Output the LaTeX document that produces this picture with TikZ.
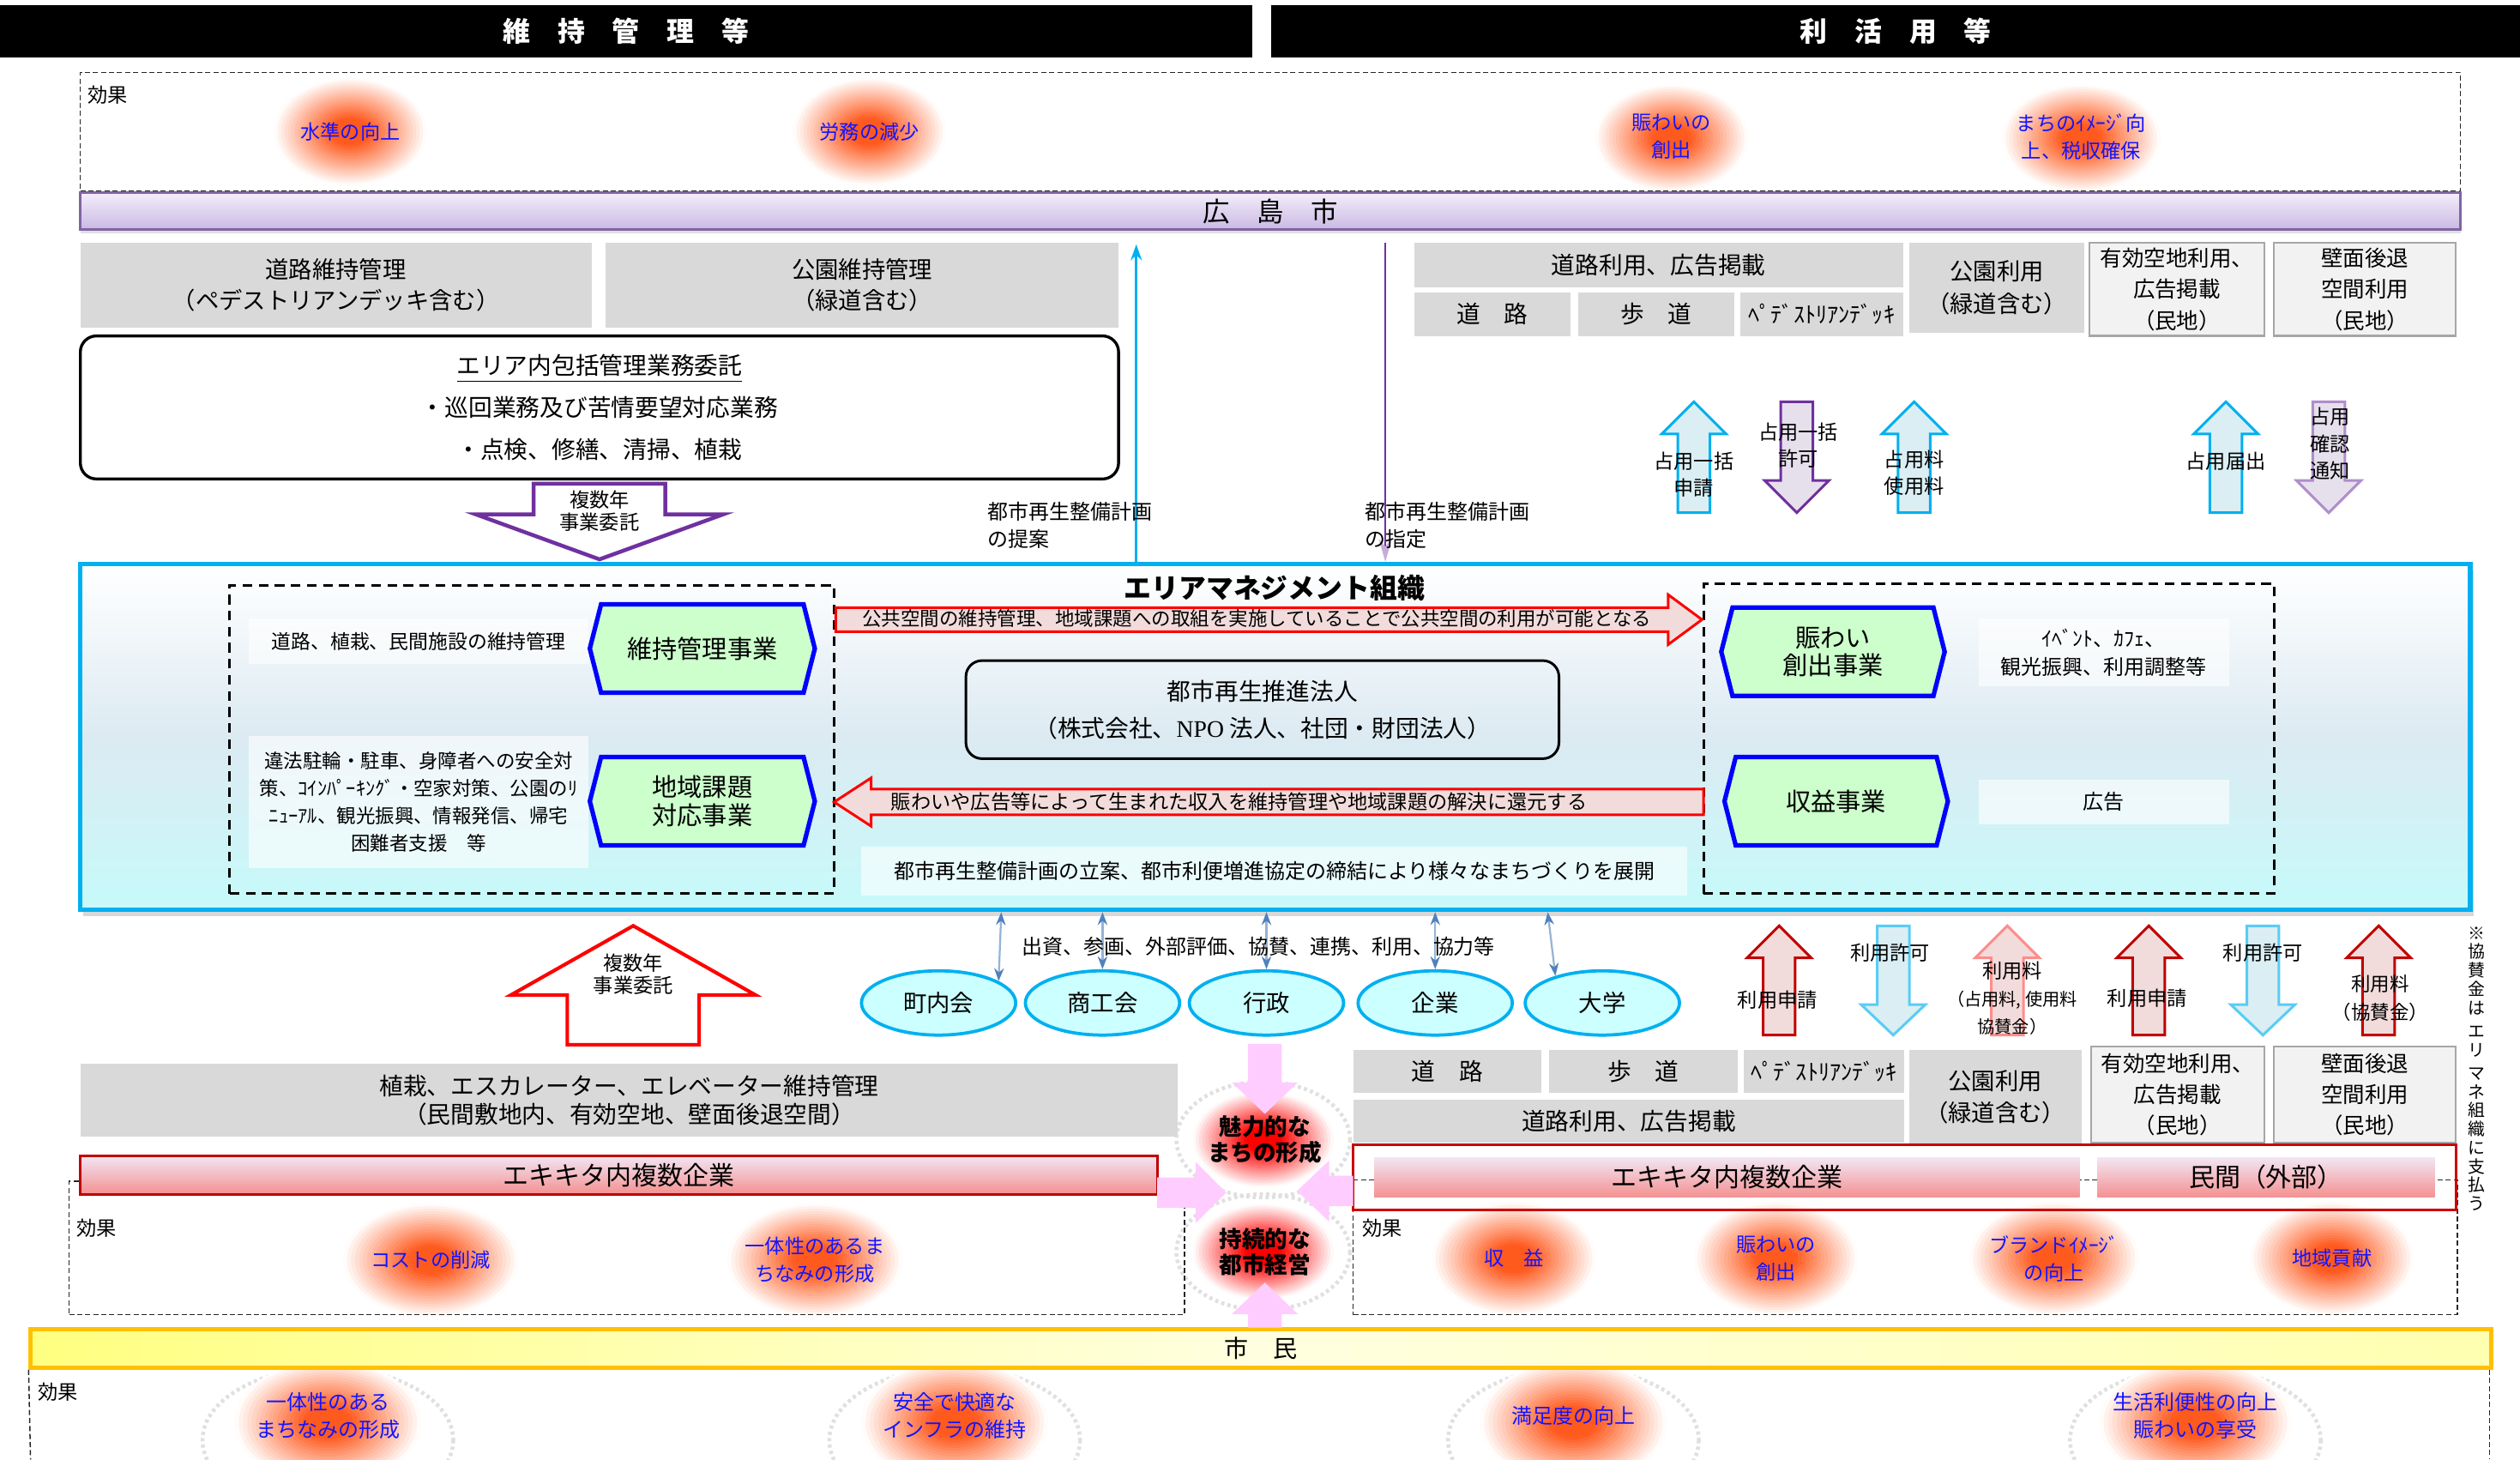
\documentclass[tikz,border=0pt]{standalone}
\usepackage{fontspec}
\setmainfont{Noto Sans CJK JP}
\newfontfamily\serifL{Liberation Serif}
\usetikzlibrary{arrows.meta,fit,shadows,shapes.geometric}
\definecolor{gbox}{HTML}{D9D9D9}
\definecolor{lbox}{HTML}{F2F2F2}
\definecolor{lboxb}{HTML}{A6A6A6}
\definecolor{cyanb}{HTML}{00B0F0}
\definecolor{purb}{HTML}{7030A0}
\definecolor{lpur}{HTML}{E6E0EC}
\definecolor{lblue}{HTML}{DAEEF3}
\definecolor{lred}{HTML}{F2DCDB}
\definecolor{dred}{HTML}{C00000}
\definecolor{hexg}{HTML}{CCFFCC}
\definecolor{hexb}{HTML}{0000FF}
\definecolor{ellc}{HTML}{CCFFFF}
\definecolor{pinkc}{HTML}{FFCCFF}
\definecolor{glowO}{RGB}{255,90,30}
\definecolor{glowR}{RGB}{255,0,0}
\definecolor{gtxt}{RGB}{20,20,255}
\definecolor{ammid}{HTML}{DCEAF2}
\definecolor{ambot}{HTML}{C6FAFA}
\definecolor{purtop}{HTML}{F3EEFA}
\definecolor{purbot}{HTML}{C9B8E3}
\definecolor{purbd}{HTML}{8064A2}
\definecolor{pinktop}{HTML}{F2E6F4}
\definecolor{pinkbot}{HTML}{F49090}
\definecolor{yelL}{HTML}{FFFF80}
\definecolor{yelM}{HTML}{FFFFE0}
\definecolor{yelR}{HTML}{FFFFB0}
\definecolor{yelbd}{HTML}{FFC000}
\definecolor{dblue}{HTML}{4F81BD}
\definecolor{sblue}{HTML}{95B3D7}
\definecolor{redbox}{HTML}{CC0000}
\newcommand\fz[2]{\fontsize{#1}{#2}\selectfont}
\newcommand\glow[4]{%
 \foreach \k in {0,...,19}{%
   \pgfmathsetmacro\ff{0.88-0.04*\k}%
   \pgfmathtruncatemacro\pp{min(100,max(0,(0.9-\ff)*150))}%
   \fill[fill={#1!\pp!white}] (#2) ellipse [x radius={#3*\ff}, y radius={#4*\ff}];
 }}
\newcommand\varrow[7]{\draw[#1] (#2,#3) -- ({#2+#6},#4) -- ({#2+#7},#4) -- ({#2+#7},#5) -- ({#2-#7},#5) -- ({#2-#7},#4) -- ({#2-#6},#4) -- cycle;}
\newcommand\harrow[7]{\draw[#1] (#3,#2) -- (#4,{#2-#6}) -- (#4,{#2-#7}) -- (#5,{#2-#7}) -- (#5,{#2+#7}) -- (#4,{#2+#7}) -- (#4,{#2+#6}) -- cycle;}
\newcommand\hexshape[5]{\draw[hexs] (#1,#3) -- (#2,#3) -- ({#2+#5},{(#3+#4)/2}) -- (#2,#4) -- (#1,#4) -- ({#1-#5},{(#3+#4)/2}) -- cycle;}
\tikzset{
 fb/.style={inner sep=0pt},
 tx/.style={align=center, inner sep=0pt},
 graybox/.style={fb, fill=gbox},
 lgraybox/.style={fb, fill=lbox, draw=lboxb, line width=0.6pt},
 wtext/.style={fb, fill=white, fill opacity=0.6},
 hexs/.style={fill=hexg, draw=hexb, line width=1.4pt},
 gl/.style={text=gtxt, align=center, font=\fz{6.2}{8.5}},
 effbox/.style={draw=black!85, dash pattern=on 1.6pt off 0.9pt, line width=0.4pt},
 innerdash/.style={draw=black, dash pattern=on 3pt off 2pt, line width=0.8pt},
 blueup/.style={fill=lblue, draw=cyanb, line width=0.8pt},
 bluedn/.style={fill=lblue, draw=cyanb!65, line width=0.8pt},
 purdn/.style={fill=lpur, draw=purb, line width=0.8pt},
 lpurdn/.style={fill=lpur, draw=purb!55, line width=0.8pt},
 redup/.style={fill=lred, draw=dred, line width=0.8pt},
 lredup/.style={fill=lred, draw=red!45, line width=0.8pt},
 alab/.style={align=center, font=\fz{6.2}{8.3}, inner sep=0pt},
 ell/.style={ellipse, fill=ellc, draw=cyanb, line width=1pt, minimum width=48pt, minimum height=20pt, inner sep=0pt, font=\fz{7.3}{9}},
 link/.style={draw=sblue, line width=0.6pt, {Stealth[length=4pt,width=3pt,color=dblue]}-{Stealth[length=4pt,width=3pt,color=dblue]}},
 pinkbar/.style={fb, top color=pinktop, bottom color=pinkbot},
 rim/.style={draw=black!12, line width=1.2pt, dash pattern=on 1pt off 1pt},
}
\begin{document}
\begin{tikzpicture}[x=0.5pt,y=-0.5pt]
\useasboundingbox[fill=white] (0,0) rectangle (1568,908);

% ---- glows (background) ----
\glow{glowO}{218,82}{54}{38}
\glow{glowO}{541,82}{54}{38}
\glow{glowO}{1040,86}{54}{38}
\glow{glowO}{1295,86}{56}{38}
\glow{glowO}{268,784}{62}{40}
\glow{glowO}{507,784}{62}{40}
\glow{glowO}{942,783}{58}{40}
\glow{glowO}{1105,783}{58}{40}
\glow{glowO}{1278,783}{60}{40}
\glow{glowO}{1451,783}{58}{40}
\draw[rim] (786,709) ellipse [x radius=54, y radius=36];
\draw[rim] (786,779) ellipse [x radius=54, y radius=36];
\glow{glowR}{786,709}{50}{34}
\glow{glowR}{786,779}{50}{34}
\draw[rim] (204,896) ellipse [x radius=78, y radius=45];
\draw[rim] (594,896) ellipse [x radius=78, y radius=45];
\draw[rim] (979,896) ellipse [x radius=78, y radius=45];
\draw[rim] (1366,896) ellipse [x radius=78, y radius=45];
\glow{glowO}{204,885}{66}{44}
\glow{glowO}{594,885}{66}{44}
\glow{glowO}{979,885}{66}{44}
\glow{glowO}{1366,885}{68}{44}

% headers
\node[fb, fill=black, fit={(0,3) (779,36)}] (hdrL) {};
\node[tx, text=white, font=\fz{8.5}{10}\bfseries] (hdrLt) at (hdrL.center) {維　持　管　理　等};
\node[fb, fill=black, fit={(791,3) (1568,36)}] (hdrR) {};
\node[tx, text=white, font=\fz{8.5}{10}\bfseries] (hdrRt) at (hdrR.center) {利　活　用　等};

% top effect area
\node[effbox, fb, fit={(50,45) (1531,119)}] (effT) {};
\node[font=\fz{6.2}{8}] (effTl) at (67,59) {効果};
\node[gl] (gt1) at (218,82) {水準の向上};
\node[gl] (gt2) at (541,82) {労務の減少};
\node[gl] (gt3) at (1040,85) {賑わいの\\創出};
\node[gl] (gt4) at (1295,85) {まちのｲﾒｰｼﾞ向\\上、税収確保};

% Hiroshima city bar
\node[fb, top color=purtop, bottom color=purbot, draw=purbd, line width=0.8pt, drop shadow={shadow xshift=0pt, shadow yshift=-1.2pt, opacity=0.25}, fit={(50,120) (1531,143)}] (hiro) {};
\node[tx, font=\fz{8.4}{10}] (hirot) at (hiro.center) {広　島　市};

% left maintenance boxes
\node[graybox, fit={(50,151) (368,204)}] (dm) {};
\node[tx, font=\fz{7.3}{9.6}] (dmt) at (dm.center) {道路維持管理\\（ペデストリアンデッキ含む）};
\node[graybox, fit={(377,151) (696,204)}] (km) {};
\node[tx, font=\fz{7.3}{9.6}] (kmt) at (km.center) {公園維持管理\\（緑道含む）};
\node[fb, draw=black, line width=0.9pt, rounded corners=5pt, fit={(50,209) (696,298)}] (ekw) {};
\node[tx, font=\fz{7.4}{13}] (ekwt) at (ekw.center) {\underline{エリア内包括管理業務委託}\\・巡回業務及び苦情要望対応業務\\・点検、修繕、清掃、植栽};
\varrow{fill=white, draw=purb, line width=1.2pt}{373}{348}{320}{301}{77}{41}
\node[alab, font=\fz{6.2}{7}] (fk1) at (373,318) {複数年\\事業委託};

% right usage boxes (top)
\node[graybox, fit={(880,151) (1184,179)}] (ru) {};
\node[tx, font=\fz{7.4}{9}] (rut) at (ru.center) {道路利用、広告掲載};
\node[graybox, fit={(880,182) (977,209)}] (rd) {};
\node[tx, font=\fz{7.4}{9}] (rdt) at (rd.center) {道　路};
\node[graybox, fit={(982,182) (1079,209)}] (rh) {};
\node[tx, font=\fz{7.4}{9}] (rht) at (rh.center) {歩　道};
\node[graybox, fit={(1083,182) (1184,209)}] (rp) {};
\node[tx, font=\fz{7}{9}] (rpt) at (rp.center) {ﾍﾟﾃﾞｽﾄﾘｱﾝﾃﾞｯｷ};
\node[graybox, fit={(1188,151) (1297,207)}] (rk) {};
\node[tx, font=\fz{7.3}{10}] (rkt) at (rk.center) {公園利用\\（緑道含む）};
\node[lgraybox, fit={(1300,151) (1409,209)}] (ry) {};
\node[tx, font=\fz{6.8}{9.7}] (ryt) at (ry.center) {有効空地利用、\\広告掲載\\（民地）};
\node[lgraybox, fit={(1415,151) (1528,209)}] (rw) {};
\node[tx, font=\fz{6.8}{9.7}] (rwt) at (rw.center) {壁面後退\\空間利用\\（民地）};

% top right small arrows
\varrow{blueup}{1054}{250}{270}{319}{20}{10}
\varrow{purdn}{1118}{319}{299}{250}{20}{10}
\varrow{blueup}{1191}{250}{270}{319}{20}{10}
\varrow{blueup}{1385}{250}{270}{319}{20}{10}
\varrow{lpurdn}{1449}{319}{299}{250}{20}{10}
\node[alab] (al1) at (1054,295) {占用一括\\申請};
\node[alab] (al2) at (1119,277) {占用一括\\許可};
\node[alab] (al3) at (1191,294) {占用料\\使用料};
\node[alab] (al4) at (1385,287) {占用届出};
\node[alab] (al5) at (1450,276) {占用\\確認\\通知};

% area management organisation
\node[fb, top color=white, bottom color=ambot, middle color=ammid, draw=cyanb, line width=1.5pt, drop shadow={shadow xshift=1pt, shadow yshift=-2pt, opacity=0.3}, fit={(50,351) (1537,566)}] (am) {};
\node[font=\fz{8.5}{10}\bfseries] (amt) at (793,366) {エリアマネジメント組織};
\node[innerdash, fb, fit={(143,364) (519,556)}] (dl) {};
\node[innerdash, fb, fit={(1060,363) (1415,556)}] (dr) {};

% vertical city lines
\coordinate (tp1) at (707,152);
\coordinate (tp2) at (862,151);
\draw[cyanb, line width=0.7pt, -{Stealth[length=5pt,width=3.5pt]}] (am.north -| tp1) -- (tp1);
\draw[purb, line width=0.7pt, -{Stealth[length=7pt,width=4pt,color=purb!40]}] (tp2) -- (am.north -| tp2);
\node[anchor=west, align=left, inner sep=0pt, font=\fz{6.4}{8.5}] (lb1) at (614,327) {都市再生整備計画\\の提案};
\node[anchor=west, align=left, inner sep=0pt, font=\fz{6.4}{8.5}] (lb2) at (849,327) {都市再生整備計画\\の指定};

% left inside
\node[wtext, fit={(155,385) (366,413)}] (t1) {};
\node[tx, font=\fz{6.1}{8}] (t1t) at (t1.center) {道路、植栽、民間施設の維持管理};
\node[wtext, fit={(155,458) (366,540)}] (t2) {};
\node[tx, font=\fz{6}{8.5}] (t2t) at (t2.center) {違法駐輪・駐車、身障者への安全対\\策、ｺｲﾝﾊﾟｰｷﾝｸﾞ・空家対策、公園のﾘ\\ﾆｭｰｱﾙ、観光振興、情報発信、帰宅\\困難者支援　等};
\hexshape{374}{500}{376}{431}{7}
\hexshape{374}{500}{471}{526}{7}
\node[tx, font=\fz{7.8}{8.6}] (hx1) at (437,403.5) {維持管理事業};
\node[tx, font=\fz{7.8}{8.6}] (hx2) at (437,498.5) {地域課題\\対応事業};

% right inside
\hexshape{1078}{1203}{378}{433}{7}
\hexshape{1080}{1205}{471}{526}{7}
\node[tx, font=\fz{7.8}{8.6}] (hx3) at (1140.5,405.5) {賑わい\\創出事業};
\node[tx, font=\fz{7.8}{8.6}] (hx4) at (1142.5,498.5) {収益事業};
\node[wtext, fit={(1231,385) (1387,427)}] (t3) {};
\node[tx, font=\fz{6.4}{9}] (t3t) at (t3.center) {ｲﾍﾞﾝﾄ、ｶﾌｪ、\\観光振興、利用調整等};
\node[wtext, fit={(1231,485) (1387,513)}] (t4) {};
\node[tx, font=\fz{6.4}{8}] (t4t) at (t4.center) {広告};

% red arrows
\harrow{fill=lred, draw=red, line width=0.8pt}{385.5}{1059}{1038}{520}{15.5}{7.5}
\node[font=\fz{6}{7}, inner sep=0pt] (ra1) at (782,385) {公共空間の維持管理、地域課題への取組を実施していることで公共空間の利用が可能となる};
\harrow{fill=lred, draw=red, line width=0.8pt}{499}{519}{542}{1060}{15}{8}
\node[font=\fz{6.2}{7}, inner sep=0pt] (ra2) at (771,499) {賑わいや広告等によって生まれた収入を維持管理や地域課題の解決に還元する};

% center boxes
\node[fb, draw=black, line width=0.8pt, rounded corners=5pt, fit={(601,411) (970,472)}] (tsp) {};
\node[tx, font=\fz{7.4}{11.5}] (tspt) at (tsp.center) {都市再生推進法人\\（株式会社、{\serifL NPO} 法人、社団・財団法人）};
\node[wtext, fit={(536,527) (1050,557)}] (tkt) {};
\node[tx, font=\fz{6.4}{8}] (tktt) at (tkt.center) {都市再生整備計画の立案、都市利便増進協定の締結により様々なまちづくりを展開};

% partners
\node[ell] (cho) at (584,624) {町内会};
\node[ell] (sho) at (686,624) {商工会};
\node[ell] (gyo) at (788,624) {行政};
\node[ell] (kig) at (893,624) {企業};
\node[ell] (dai) at (997,624) {大学};
\coordinate (c1) at (623,567);
\coordinate (c5) at (963,567);
\draw[link] (am.south -| c1) -- (cho.20);
\draw[link] (am.south -| sho) -- (sho.north);
\draw[link] (am.south -| gyo) -- (gyo.north);
\draw[link] (am.south -| kig) -- (kig.north);
\draw[link] (am.south -| c5) -- (dai.150);
\node[font=\fz{6.4}{8}] (shus) at (783,589) {出資、参画、外部評価、協賛、連携、利用、協力等};

% lower left
\varrow{fill=white, draw=red, line width=1.1pt}{394}{576}{619}{650}{76}{41}
\node[alab, font=\fz{6.2}{7}] (fk2) at (394,606) {複数年\\事業委託};
\node[graybox, fit={(50,662) (733,707)}] (shok) {};
\node[tx, font=\fz{7.4}{8.8}] (shokt) at (shok.center) {植栽、エスカレーター、エレベーター維持管理\\（民間敷地内、有効空地、壁面後退空間）};
\node[effbox, fb, fit={(43,735) (737,818)}] (effL) {};
\node[pinkbar, draw=dred, line width=0.8pt, fit={(50,719) (720,743)}] (ekL) {};
\node[tx, font=\fz{8}{10}] (ekLt) at (ekL.center) {エキキタ内複数企業};
\node[font=\fz{6.2}{8}] (effLl) at (60,764) {効果};
\node[gl] (gl1) at (268,784) {コストの削減};
\node[gl] (gl2) at (507,784) {一体性のあるま\\ちなみの形成};

% lower right
\varrow{redup}{1107}{576}{596}{644}{20}{10}
\varrow{bluedn}{1178}{644}{625}{576}{20}{10}
\varrow{lredup}{1249}{576}{596}{644}{20}{10}
\varrow{redup}{1337}{576}{596}{644}{20}{10}
\varrow{bluedn}{1408}{644}{625}{576}{20}{10}
\varrow{redup}{1480}{576}{596}{644}{20}{10}
\node[alab] (bl1) at (1106,622) {利用申請};
\node[alab] (bl2) at (1176,593) {利用許可};
\node[alab, font=\fz{5.4}{8.5}] (bl3) at (1252,621) {{\fz{6.2}{8.5}利用料}\\（占用料, 使用料\\協賛金）};
\node[alab] (bl4) at (1336,621) {利用申請};
\node[alab] (bl5) at (1408,593) {利用許可};
\node[alab, font=\fz{6}{9}] (bl6) at (1481,621) {利用料\\（協賛金）};

\node[graybox, fit={(842,653) (959,680)}] (rd2) {};
\node[tx, font=\fz{7.4}{9}] (rd2t) at (rd2.center) {道　路};
\node[graybox, fit={(964,653) (1081,680)}] (rh2) {};
\node[tx, font=\fz{7.4}{9}] (rh2t) at (rh2.center) {歩　道};
\node[graybox, fit={(1085,653) (1185,680)}] (rp2) {};
\node[tx, font=\fz{7}{9}] (rp2t) at (rp2.center) {ﾍﾟﾃﾞｽﾄﾘｱﾝﾃﾞｯｷ};
\node[graybox, fit={(842,684) (1185,711)}] (ru2) {};
\node[tx, font=\fz{7.4}{9}] (ru2t) at (ru2.center) {道路利用、広告掲載};
\node[graybox, fit={(1188,653) (1295,712)}] (rk2) {};
\node[tx, font=\fz{7.3}{10}] (rk2t) at (rk2.center) {公園利用\\（緑道含む）};
\node[lgraybox, fit={(1301,651) (1409,711)}] (ry2) {};
\node[tx, font=\fz{6.8}{9.7}] (ry2t) at (ry2.center) {有効空地利用、\\広告掲載\\（民地）};
\node[lgraybox, fit={(1415,651) (1528,711)}] (rw2) {};
\node[tx, font=\fz{6.8}{9.7}] (rw2t) at (rw2.center) {壁面後退\\空間利用\\（民地）};

\node[effbox, fb, fit={(842,734) (1529,818)}] (effR) {};
\node[fb, draw=redbox, line width=0.8pt, fit={(842,712) (1528,753)}] (redb) {};
\node[pinkbar, fit={(855,720) (1294,745)}] (ekR) {};
\node[tx, font=\fz{8}{10}] (ekRt) at (ekR.center) {エキキタ内複数企業};
\node[pinkbar, fit={(1305,720) (1515,745)}] (mink) {};
\node[tx, font=\fz{8}{10}] (minkt) at (mink.center) {民間（外部）};
\node[font=\fz{6.2}{8}] (effRl) at (860,764) {効果};
\node[gl] (gr1) at (942,783) {収　益};
\node[gl] (gr2) at (1105,783) {賑わいの\\創出};
\node[gl] (gr3) at (1278,783) {ブランドｲﾒｰｼﾞ\\の向上};
\node[gl] (gr4) at (1451,783) {地域貢献};

% vertical note
\node[align=center, inner sep=0pt, font=\fz{5.3}{5.8}] (note) at (1541,665) {※\\協\\賛\\金\\は\\[1.5pt]エ\\リ\\[1.5pt]マ\\ネ\\組\\織\\に\\支\\払\\う};

% citizens bar
\node[fb, left color=yelL, right color=yelR, middle color=yelM, draw=yelbd, line width=1.2pt, fit={(19,827) (1550,851)}] (shim) {};
\node[tx, font=\fz{7.5}{9}] (shimt) at (shim.center) {市　民};

% center column
\varrow{fill=pinkc, draw=none}{787}{693}{673.5}{649.5}{20.5}{10.5}
\varrow{fill=pinkc, draw=none}{787}{798}{817.5}{826}{20.5}{10.5}
\harrow{fill=pinkc, draw=none}{742}{763}{744}{720}{19}{9.5}
\harrow{fill=pinkc, draw=none}{741}{807}{827}{842}{19}{9.5}
\node[tx, font=\fz{7.1}{8}\bfseries] (miry) at (787,709) {魅力的な\\まちの形成};
\node[tx, font=\fz{7.1}{8}\bfseries] (jizo) at (787,779) {持続的な\\都市経営};

% bottom effect
\coordinate (botL) at (19,908);
\coordinate (botR) at (1549,908);
\draw[effbox] (shim.south west) -- (botL);
\draw[effbox] (shim.south east -| botR) -- (botR);
\node[font=\fz{6.2}{8}] (effBl) at (36,866) {効果};
\node[gl, font=\fz{6.4}{8.5}] (gb1) at (204,881) {一体性のある\\まちなみの形成};
\node[gl, font=\fz{6.4}{8.5}] (gb2) at (594,881) {安全で快適な\\インフラの維持};
\node[gl, font=\fz{6.4}{8.5}] (gb3) at (979,881) {満足度の向上};
\node[gl, font=\fz{6.4}{8.5}] (gb4) at (1366,881) {生活利便性の向上\\賑わいの享受};
\end{tikzpicture}
\end{document}
